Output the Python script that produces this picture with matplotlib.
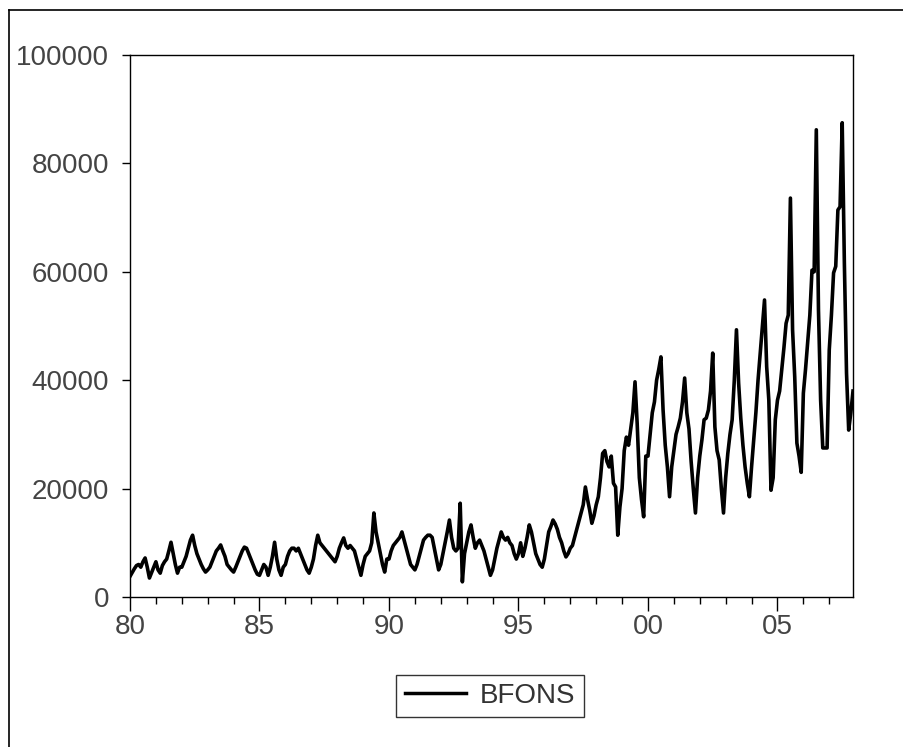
import numpy as np
import matplotlib.pyplot as plt
from matplotlib.lines import Line2D

# monthly values, Jan..Dec
y1980 = [3800, 4500, 5200, 5800, 6000, 5500, 6500, 7200, 5500, 3500, 4500, 5500]
y1981 = [6500, 5000, 4400, 5800, 6500, 7000, 8500, 10100, 8000, 6000, 4400, 5500]
y1982 = [5500, 6500, 7500, 9000, 10500, 11400, 9500, 8000, 7000, 6000, 5200, 4600]
y1983 = [5000, 5500, 6500, 7500, 8500, 9000, 9600, 8500, 7500, 6000, 5500, 5000]
y1984 = [4600, 5500, 6500, 7500, 8500, 9200, 9000, 8000, 7000, 6000, 5000, 4200]
y1985 = [4000, 5000, 6000, 5500, 4000, 5500, 7500, 10100, 7000, 5000, 4000, 5500]
y1986 = [6000, 7500, 8500, 9000, 9000, 8500, 9000, 8000, 7000, 6000, 5000, 4400]
y1987 = [5500, 7000, 9500, 11400, 10000, 9500, 9000, 8500, 8000, 7500, 7000, 6500]
y1988 = [7500, 9000, 10000, 10900, 9500, 9000, 9500, 9000, 8500, 7000, 5500, 4000]
y1989 = [6000, 7500, 8000, 8500, 10000, 15500, 12000, 10000, 8000, 6000, 4600, 7000]
y1990 = [7000, 8500, 9500, 10000, 10500, 11000, 12000, 10500, 9000, 7500, 6000, 5500]
y1991 = [5000, 6000, 7500, 9000, 10500, 11000, 11400, 11400, 11000, 9000, 7000, 5000]
y1992 = [6000, 8000, 10000, 12000, 14200, 11000, 9000, 8500, 9000, 17300, 2800, 8000]
y1993 = [10000, 12000, 13300, 11000, 9000, 10000, 10500, 9500, 8500, 7000, 5500, 4000]
y1994 = [5000, 7000, 9000, 10500, 12000, 11000, 10500, 11000, 10000, 9500, 8000, 7000]
y1995 = [8000, 10000, 7500, 9000, 11000, 13300, 12000, 10000, 8000, 7000, 6000, 5500]
y1996 = [7000, 9500, 12000, 13000, 14200, 13500, 12500, 11000, 10000, 8500, 7400, 8000]
y1997 = [9000, 9500, 11000, 12500, 14000, 15500, 17000, 20300, 18000, 16000, 13600, 15000]
y1998 = [17000, 18500, 22000, 26500, 27000, 25000, 24000, 26000, 21000, 20300, 11400, 16600]
y1999 = [20000, 27000, 29500, 28000, 31000, 34000, 39700, 32000, 22000, 18000, 14800, 26000]
y2000 = [26000, 30000, 34000, 36000, 40000, 42000, 44300, 34500, 28000, 24000, 18500, 24000]
y2001 = [27000, 30000, 31400, 33000, 36000, 40400, 34000, 31000, 25000, 20000, 15500, 22000]
y2002 = [26000, 29000, 32700, 33000, 34500, 38000, 45000, 31400, 27000, 25300, 20000, 15500]
y2003 = [22000, 26500, 30000, 32700, 40000, 49300, 39500, 33000, 28000, 24000, 21000, 18500]
y2004 = [24000, 29000, 34000, 40000, 45000, 50000, 54800, 42500, 36300, 19700, 22000, 32700]
y2005 = [36300, 38000, 41900, 46000, 50500, 52000, 73600, 49300, 40600, 28400, 26000, 23000]
y2006 = [37600, 42000, 46900, 52000, 60300, 60000, 86200, 53000, 36300, 27500, 27500, 27500]
y2007 = [45600, 52000, 59800, 61000, 71400, 72000, 87500, 61600, 41300, 30800, 34000, 38000]

bfons = np.array(y1980 + y1981 + y1982 + y1983 + y1984 + y1985 + y1986 + y1987
                 + y1988 + y1989 + y1990 + y1991 + y1992 + y1993 + y1994 + y1995
                 + y1996 + y1997 + y1998 + y1999 + y2000 + y2001 + y2002 + y2003
                 + y2004 + y2005 + y2006 + y2007)
t = 1980 + np.arange(len(bfons)) / 12.0

xticks = [1980, 1985, 1990, 1995, 2000, 2005]
xlabels = ['80', '85', '90', '95', '00', '05']
yticks = [0, 20000, 40000, 60000, 80000, 100000]

plt.rcParams['font.family'] = ['Liberation Sans', 'DejaVu Sans']

fig = plt.figure(figsize=(9.04, 7.47), dpi=100)
ax = fig.add_axes([130/904, 150/747, 723/904, 542/747])

ax.plot(t, bfons, color='black', linewidth=2.6)
ax.set_xlim(1980, t[-1])
ax.set_ylim(0, 100000)

ax.set_xticks(xticks)
ax.set_xticklabels(xlabels)
ax.set_xticks(np.arange(1981, 2008), minor=True)
ax.set_yticks(yticks)
ax.set_yticklabels([str(v) for v in yticks])

ax.tick_params(axis='y', direction='out', length=6, width=1, pad=9,
               labelsize=20, labelcolor='#444444')
ax.tick_params(axis='x', which='major', direction='out', length=10, width=1,
               pad=2, labelsize=20, labelcolor='#444444')
ax.tick_params(axis='x', which='minor', direction='out', length=5, width=1)
for s in ax.spines.values():
    s.set_linewidth(1.0)
    s.set_color('black')

# legend
leg_line = Line2D([0], [0], color='black', linewidth=2.5)
leg = fig.legend([leg_line], ['BFONS'], loc='center',
                 bbox_to_anchor=(490/904, 1 - 696/747), frameon=True,
                 fancybox=False, edgecolor='black', fontsize=20,
                 handlelength=2.2, handletextpad=0.5, borderpad=0.3,
                 labelcolor='#333333')
leg.get_frame().set_linewidth(1.0)

# outer frame (top and left edges visible)
fig.add_artist(Line2D([9/904, 1], [1 - 10/747, 1 - 10/747], color='black',
                      linewidth=1.2, transform=fig.transFigure))
fig.add_artist(Line2D([9/904, 9/904], [0, 1 - 10/747], color='black',
                      linewidth=1.2, transform=fig.transFigure))

fig.savefig('out.png', dpi=100)
